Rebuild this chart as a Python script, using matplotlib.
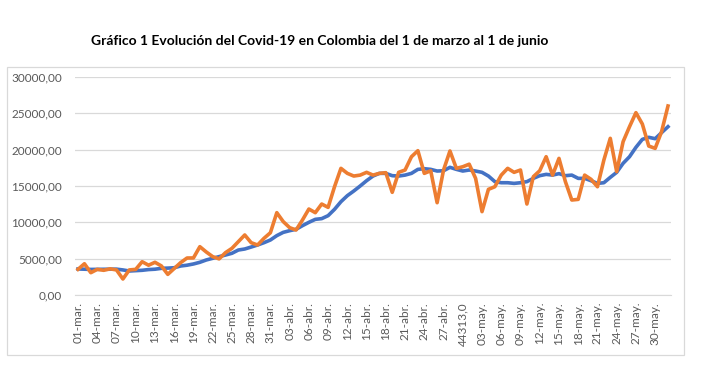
import datetime as dt
import matplotlib
matplotlib.use('Agg')
import matplotlib.pyplot as plt
from matplotlib.patches import Rectangle

# dias del 1 de marzo al 1 de junio
start = dt.date(2020, 3, 1)
dates = [start + dt.timedelta(days=i) for i in range(93)]
months = {3: 'mar.', 4: 'abr.', 5: 'may.', 6: 'jun.'}

# serie diaria (naranja)
daily = [3530, 4300, 3070, 3530, 3400, 3600, 3450, 2200, 3450, 3530,
         4580, 4100, 4500, 4000, 2840, 3650, 4450, 5090, 5100, 6650,
         5920, 5280, 4970, 5830, 6420, 7340, 8260, 7200, 6880, 7800,
         8570, 11330, 10100, 9270, 8940, 10320, 11830, 11330, 12520, 12060,
         14900, 17430, 16740, 16370, 16500, 16880, 16500, 16740, 16830, 14130,
         16880, 17200, 19030, 19860, 16740, 17100, 12700, 17200, 19820, 17430,
         17650, 18000, 16050, 11470, 14540, 14900, 16500, 17430, 16880, 17200,
         12520, 16280, 17100, 19030, 16500, 18800, 15600, 13070, 13160, 16500,
         15920, 14900, 18570, 21560, 16970, 21100, 23160, 25090, 23530, 20500,
         20180, 22480, 26010]

# promedio movil (azul)
average = [3580, 3550, 3520, 3530, 3540, 3550, 3560, 3450, 3300, 3350,
           3400, 3500, 3550, 3670, 3700, 3750, 3990, 4100, 4270, 4500,
           4820, 5050, 5280, 5500, 5740, 6190, 6330, 6600, 6880, 7200,
           7570, 8170, 8620, 8850, 9040, 9540, 10000, 10410, 10510, 10920,
           11790, 12840, 13670, 14310, 15000, 15730, 16370, 16740, 16740, 16420,
           16370, 16500, 16740, 17290, 17380, 17290, 17060, 17100, 17570, 17290,
           17060, 17200, 17060, 16880, 16370, 15600, 15450, 15450, 15360, 15450,
           15600, 16050, 16420, 16600, 16500, 16700, 16420, 16500, 16050, 16050,
           15730, 15360, 15450, 16190, 16880, 18120, 19030, 20320, 21420, 21700,
           21510, 22340, 23160]

yticks = [0, 5000, 10000, 15000, 20000, 25000, 30000]

labels = ['%02d-%s' % (d.day, months[d.month]) for d in dates]
labels[60] = '44313,0'  # asi sale en la hoja original

plt.rcParams['font.family'] = ['Lato', 'DejaVu Sans']

fig = plt.figure(figsize=(7.08, 3.66), dpi=100)
fig.text(0.452, 0.888, 'Gráfico 1 Evolución del Covid-19 en Colombia del 1 de marzo al 1 de junio',
         ha='center', va='center', fontsize=10, fontweight='bold', color='black')

# marco del grafico
fig.patches.append(Rectangle((7 / 708, 1 - 355 / 366), 677 / 708, 288 / 366,
                             transform=fig.transFigure, fill=False,
                             edgecolor='#d9d9d9', linewidth=0.9))

ax = fig.add_axes([74.8 / 708, 1 - 295 / 366, 596.4 / 708, 218 / 366])
x = list(range(len(dates)))
ax.plot(x, average, color='#4472c4', linewidth=2.6, solid_joinstyle='round', zorder=3)
ax.plot(x, daily, color='#ed7d31', linewidth=2.6, solid_joinstyle='round', zorder=4)

ax.set_xlim(-0.5, len(dates) - 0.5)
ax.set_ylim(0, 30000)
ax.set_yticks(yticks)
ax.set_yticklabels(['%d,00' % v for v in yticks])
ax.set_xticks(x[::3])
ax.set_xticklabels(labels[::3], rotation=90)
ax.yaxis.grid(True, color='#d9d9d9', linewidth=0.9)
ax.set_axisbelow(True)
for s in ['top', 'right', 'left']:
    ax.spines[s].set_visible(False)
ax.spines['bottom'].set_color('#d9d9d9')
ax.tick_params(axis='both', length=0, colors='#595959', labelsize=8.5)
ax.tick_params(axis='y', pad=9)
ax.tick_params(axis='x', pad=5)

fig.savefig('out.png', dpi=100)
